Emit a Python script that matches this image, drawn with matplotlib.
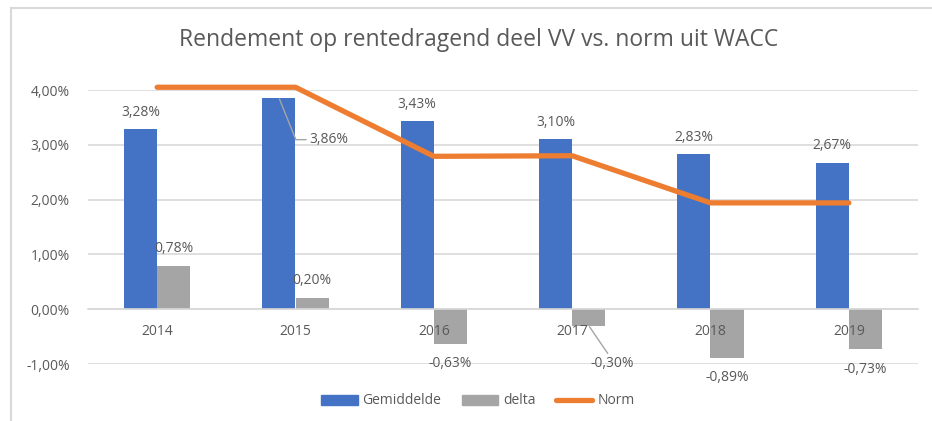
import matplotlib.pyplot as plt
import numpy as np
from matplotlib.lines import Line2D
from matplotlib.patches import Patch

plt.rcParams['font.family'] = ['Open Sans', 'DejaVu Sans']

years = ["2014", "2015", "2016", "2017", "2018", "2019"]
gemiddelde = [3.28, 3.86, 3.43, 3.10, 2.83, 2.67]
delta = [0.78, 0.20, -0.63, -0.30, -0.89, -0.73]
norm = [4.05, 4.05, 2.79, 2.80, 1.94, 1.94]

BLUE = "#4472C4"
GREY = "#A5A5A5"
ORANGE = "#ED7D31"
TXT = "#595959"
GRID = "#D9D9D9"
FS = 10

W, H = 932, 421
fig = plt.figure(figsize=(W / 100, H / 100), dpi=100)

# chart border (left + top edge visible in the screenshot)
fig.add_artist(Line2D([11 / W, 11 / W], [0, 1 - 8 / H], color=GRID, lw=1.5))
fig.add_artist(Line2D([11 / W, 1], [1 - 8 / H, 1 - 8 / H], color=GRID, lw=1.5))

ax = fig.add_axes([88 / W, 1 - 364 / H, 830 / W, 274 / H])
x = np.arange(len(years))
bw = 0.24

ax.bar(x - bw / 2, gemiddelde, bw, color=BLUE, zorder=2)
ax.bar(x + bw / 2, delta, bw, color=GREY, zorder=2)
ax.plot(x, norm, color=ORANGE, lw=3.8, solid_capstyle="round", zorder=3,
        clip_on=False)

ax.set_xlim(-0.5, len(years) - 0.5)
ax.set_ylim(-1, 4)
ax.set_yticks([-1, 0, 1, 2, 3, 4])
ax.set_yticklabels(["{:.2f}%".format(v).replace(".", ",") for v in ax.get_yticks()])
ax.grid(axis="y", color=GRID, lw=1.2, zorder=0)
for s in ["left", "right", "top"]:
  ax.spines[s].set_visible(False)
ax.spines["bottom"].set_position(("data", 0))
ax.spines["bottom"].set_color(GRID)
ax.spines["bottom"].set_linewidth(1.2)
ax.set_xticks(x)
ax.set_xticklabels(years)
ax.xaxis.set_zorder(5)  # year labels drawn over the negative bars
ax.tick_params(axis="both", length=0, colors=TXT, labelsize=FS)
ax.tick_params(axis="x", pad=11)
ax.tick_params(axis="y", pad=13)

def fmt(v):
  return "{:.2f}%".format(v).replace(".", ",")

lab_kw = dict(textcoords="offset pixels", ha="center", va="center",
              fontsize=FS, color=TXT, zorder=4)
lead = dict(arrowstyle="-", color=GREY, lw=1, shrinkA=0, shrinkB=1)

# labels for Gemiddelde
for i, v in enumerate(gemiddelde):
  if i == 1:
    ax.annotate(fmt(v), (x[i] - bw / 2, v), xytext=(30, -42),
                ha="left", va="center", textcoords="offset pixels",
                fontsize=FS, color=TXT, zorder=4,
                arrowprops=dict(lead, relpos=(0, 0.5),
                                connectionstyle="angle,angleA=0,angleB=-68,rad=0"))
  else:
    ax.annotate(fmt(v), (x[i] - bw / 2, v), xytext=(0, 17), **lab_kw)

# labels for delta
for i, v in enumerate(delta):
  if v >= 0:
    ax.annotate(fmt(v), (x[i] + bw / 2, v), xytext=(0, 18), **lab_kw)
  elif i == 3:
    ax.annotate(fmt(v), (x[i] + bw / 2, v), xytext=(23, -38),
                arrowprops=dict(lead, relpos=(0.45, 1)), **lab_kw)
  else:
    ax.annotate(fmt(v), (x[i] + bw / 2, v), xytext=(0, -20), **lab_kw)

fig.text(479 / W, 1 - 40 / H, "Rendement op rentedragend deel VV vs. norm uit WACC",
         ha="center", va="center", fontsize=16.5, color=TXT)

handles = [Patch(color=BLUE), Patch(color=GREY),
           Line2D([], [], color=ORANGE, lw=3.8, solid_capstyle="round")]
fig.legend(handles, ["Gemiddelde", "delta", "Norm"], loc="center",
           bbox_to_anchor=(478 / W, 1 - 401 / H), ncol=3, frameon=False,
           fontsize=FS, labelcolor=TXT, handlelength=2.6,
           handletextpad=0.35, columnspacing=1.5)

fig.savefig("out.png", dpi=100)
